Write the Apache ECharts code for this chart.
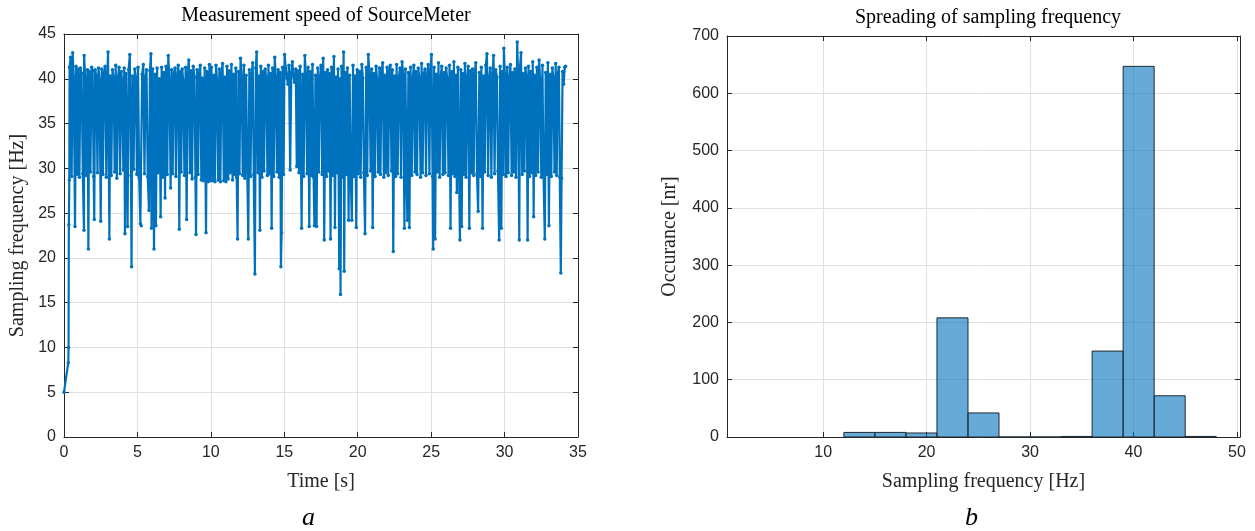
<!DOCTYPE html>
<html>
<head>
<meta charset="utf-8">
<title>SourceMeter sampling</title>
<script src="https://cdn.jsdelivr.net/npm/echarts@6/dist/echarts.min.js"></script>
<style>
  html, body { margin: 0; padding: 0; background: #fff; }
  #main { width: 1255px; height: 531px; }
</style>
</head>
<body>
<div id="main"></div>
<script>
// (a) measured sampling frequency over time: [time s, frequency Hz]
const speedSamples = [
  [0,5.0],[0.29,8.3],[0.31,10.0],[0.33,23.7],[0.36,28.7],[0.38,41.3],[0.45,42.4],[0.52,29.1],[0.59,42.9],[0.66,40.2],[0.75,23.5],[0.82,41.4],[0.9,29.3],[0.96,41.1],
  [1.05,29.0],[1.12,41.2],[1.2,40.6],[1.28,29.4],[1.36,23.1],[1.37,42.6],[1.45,40.0],[1.52,29.2],[1.6,41.0],[1.66,21.0],[1.72,40.8],[1.8,29.6],[1.88,41.3],[1.95,40.9],
  [2.02,29.1],[2.06,24.3],[2.12,41.0],[2.2,40.4],[2.28,29.5],[2.35,41.2],[2.42,39.8],[2.5,24.1],[2.57,41.1],[2.65,29.3],[2.72,40.7],[2.8,41.4],[2.88,29.0],[2.95,40.5],
  [3.0,43.0],[3.09,22.1],[3.15,40.3],[3.22,29.2],[3.3,41.0],[3.38,40.1],[3.45,29.6],[3.52,41.5],[3.6,28.9],[3.68,40.2],[3.75,41.3],[3.82,29.4],[3.9,40.8],[3.96,39.6],
  [4.04,29.8],[4.1,41.2],[4.15,22.7],[4.22,40.6],[4.33,23.5],[4.4,41.0],[4.48,42.7],[4.56,29.2],[4.6,19.0],[4.66,40.3],[4.74,29.9],[4.82,41.1],[4.9,40.0],[4.96,29.3],
  [5.04,41.3],[5.12,29.0],[5.2,23.8],[5.26,23.6],[5.32,40.5],[5.4,41.6],[5.48,29.4],[5.55,40.2],[5.62,41.0],[5.7,29.1],[5.79,25.3],[5.85,40.9],[5.92,42.8],[5.96,23.3],
  [6.04,41.1],[6.13,21.0],[6.2,40.5],[6.26,23.6],[6.34,41.2],[6.42,29.5],[6.5,40.0],[6.58,24.6],[6.65,41.3],[6.72,29.0],[6.8,40.7],[6.88,26.7],[6.95,41.4],
  [7.03,29.3],[7.1,42.6],[7.18,39.9],[7.26,27.8],[7.33,41.0],[7.4,29.4],[7.48,40.6],[7.56,41.2],[7.62,29.1],[7.7,40.3],[7.78,41.5],[7.85,23.2],[7.92,40.8],[7.98,29.6],
  [8.05,41.1],[8.12,39.8],[8.2,29.2],[8.28,41.3],[8.35,24.3],[8.42,40.5],[8.5,42.1],[8.58,29.5],[8.65,40.9],[8.72,28.8],[8.8,41.4],[8.88,40.2],[8.95,29.0],
  [8.99,22.6],[9.06,41.0],[9.13,29.3],[9.2,40.6],[9.28,41.5],[9.35,28.7],[9.42,40.1],[9.5,28.6],[9.58,41.2],[9.67,22.8],[9.74,40.8],[9.82,28.5],[9.9,41.6],[9.96,28.6],
  [10.04,41.3],[10.12,28.6],[10.2,40.4],[10.28,28.5],[10.35,41.5],[10.42,40.0],[10.5,28.7],[10.58,41.1],[10.65,28.5],[10.72,40.6],[10.8,41.7],[10.88,28.6],[10.95,40.2],
  [11.03,28.5],[11.1,41.4],[11.18,28.8],[11.25,40.9],[11.33,29.5],[11.4,41.6],[11.48,28.7],[11.55,40.5],[11.62,29.3],[11.7,41.2],[11.76,29.0],[11.82,22.1],[11.88,40.8],[11.95,29.4],
  [12.02,42.3],[12.1,40.1],[12.17,29.2],[12.25,41.5],[12.32,28.9],[12.4,40.4],[12.48,29.6],[12.55,22.1],[12.62,41.0],[12.7,29.1],[12.78,40.6],[12.85,41.8],[12.92,29.3],[13.0,18.2],
  [13.06,41.2],[13.12,43.0],[13.2,29.5],[13.28,40.3],[13.34,23.1],[13.4,41.4],[13.48,29.0],[13.55,40.8],[13.62,29.7],[13.7,41.1],[13.78,40.0],[13.85,29.2],[13.92,41.5],
  [14.0,29.4],[14.07,40.6],[14.14,23.3],[14.2,41.2],[14.28,29.1],[14.35,42.4],[14.42,40.3],[14.5,29.6],[14.58,41.0],[14.65,29.0],[14.72,40.7],[14.77,19.0],[14.82,22.8],[14.88,41.3],[14.95,29.3],
  [15.02,42.7],[15.1,41.2],[15.18,40.1],[15.25,39.4],[15.32,41.5],[15.4,29.8],[15.48,40.7],[15.55,41.9],[15.62,40.3],[15.7,39.6],[15.78,41.1],[15.85,30.2],[15.92,40.9],
  [16.0,29.5],[16.08,41.4],[16.18,23.3],[16.25,40.5],[16.32,29.1],[16.4,42.6],[16.48,40.2],[16.55,29.4],[16.62,41.3],[16.7,23.5],[16.78,40.8],[16.85,29.2],[16.92,41.6],
  [17.0,29.0],[17.05,23.6],[17.12,40.4],[17.2,23.5],[17.28,41.2],[17.35,29.6],[17.42,40.0],[17.5,41.5],[17.58,29.3],[17.65,42.3],[17.72,22.0],[17.8,40.7],[17.88,29.1],[17.95,41.0],
  [18.02,29.7],[18.08,40.6],[18.15,22.1],[18.22,41.3],[18.3,29.2],[18.38,42.5],[18.45,23.4],[18.52,40.2],[18.6,29.5],[18.66,41.1],[18.74,18.8],[18.8,40.0],[18.83,15.9],[18.9,41.4],[18.96,29.0],
  [19.04,43.0],[19.08,18.5],[19.15,40.7],[19.22,29.3],[19.3,41.2],[19.38,24.2],[19.45,40.4],[19.52,29.6],[19.6,24.2],[19.68,41.5],[19.75,29.1],[19.82,40.3],[19.9,23.4],[19.96,41.0],
  [20.04,29.4],[20.12,40.8],[20.2,29.0],[20.28,41.6],[20.35,40.1],[20.42,29.5],[20.5,22.7],[20.58,41.3],[20.65,29.2],[20.72,42.7],[20.8,40.5],[20.88,29.7],[20.95,41.1],
  [21.02,23.4],[21.1,40.6],[21.18,29.1],[21.25,41.4],[21.32,40.0],[21.4,29.6],[21.48,41.2],[21.55,29.3],[21.62,40.7],[21.7,41.8],[21.78,29.0],[21.85,40.4],[21.92,29.5],
  [22.0,41.3],[22.08,29.2],[22.15,40.9],[22.22,41.5],[22.3,29.7],[22.36,41.0],[22.42,20.7],[22.5,40.3],[22.58,29.1],[22.65,41.6],[22.72,29.4],[22.8,40.2],[22.88,41.2],[22.95,29.0],
  [23.02,41.9],[23.1,40.5],[23.18,23.3],[23.25,41.1],[23.32,29.5],[23.38,24.2],[23.45,40.7],[23.52,23.4],[23.6,41.3],[23.68,29.2],[23.75,40.0],[23.82,41.5],[23.9,29.6],[23.96,40.8],
  [24.04,29.3],[24.12,41.2],[24.2,40.1],[24.28,29.0],[24.35,41.7],[24.42,29.5],[24.5,40.6],[24.58,41.1],[24.65,29.2],[24.72,40.3],[24.8,41.6],[24.88,29.4],[24.95,40.9],
  [25.02,42.7],[25.1,29.1],[25.14,21.0],[25.2,41.3],[25.27,22.1],[25.35,40.5],[25.42,29.6],[25.5,41.8],[25.58,29.0],[25.65,40.2],[25.72,41.4],[25.8,29.3],[25.88,40.7],[25.95,29.5],
  [26.02,41.2],[26.1,40.0],[26.18,29.2],[26.25,41.5],[26.32,23.3],[26.4,40.8],[26.48,29.4],[26.55,41.9],[26.62,29.1],[26.7,40.4],[26.75,27.3],[26.82,41.3],[26.9,29.6],[26.96,22.0],
  [27.02,41.0],[27.08,23.5],[27.15,40.6],[27.22,29.3],[27.3,41.7],[27.38,29.0],[27.45,40.2],[27.52,41.4],[27.6,23.3],[27.68,40.9],[27.75,29.5],[27.82,41.1],[27.9,29.2],[27.96,40.5],
  [28.04,41.8],[28.12,29.4],[28.2,25.2],[28.28,40.7],[28.35,29.1],[28.42,41.3],[28.5,23.3],[28.58,40.3],[28.65,29.6],[28.72,41.5],[28.8,42.8],[28.88,29.2],[28.95,40.1],
  [29.02,41.2],[29.1,29.0],[29.18,40.6],[29.25,42.6],[29.32,29.4],[29.4,41.0],[29.48,40.2],[29.55,29.7],[29.63,22.0],[29.7,41.4],[29.78,23.3],[29.85,40.8],[29.92,29.3],[29.95,43.4],
  [30.02,40.5],[30.1,29.1],[30.18,41.3],[30.25,29.5],[30.32,40.0],[30.4,41.6],[30.48,29.2],[30.55,40.7],[30.62,29.6],[30.7,41.1],[30.78,29.0],[30.86,44.1],[30.92,40.3],[31.0,22.0],
  [31.06,41.5],[31.12,42.9],[31.2,29.3],[31.28,40.6],[31.35,29.7],[31.42,41.2],[31.5,40.1],[31.57,22.0],[31.63,41.4],[31.7,29.1],[31.78,40.8],[31.85,29.5],[31.92,41.9],[31.98,24.6],
  [32.04,40.4],[32.12,29.2],[32.2,41.3],[32.28,29.6],[32.35,42.1],[32.42,40.0],[32.5,29.0],[32.58,41.5],[32.65,29.4],[32.74,22.1],[32.8,40.7],[32.88,29.3],[32.95,41.8],
  [33.02,23.6],[33.1,40.5],[33.18,29.1],[33.25,41.2],[33.32,40.2],[33.4,29.6],[33.48,41.7],[33.55,29.2],[33.62,40.6],[33.7,41.3],[33.76,29.0],[33.83,18.3],[33.88,28.9],[33.95,40.8],[34.02,39.4],[34.1,41.3],[34.15,41.4]
];

// (b) histogram of the sampling frequency
const binEdges = [12, 15, 18, 21, 24, 27, 30, 33, 36, 39, 42, 45, 48];
const binCounts = [8, 8, 7, 208, 42, 0, 0, 1, 150, 647, 72, 1];
const histTicks = [10, 20, 30, 40, 50];

const axisColor = '#262626';
const gridColor = '#e0e0e0';
const serif = '"Liberation Serif", "DejaVu Serif", serif';
const sans = '"Liberation Sans", Arial, sans-serif';

const histBars = binCounts.map((c, i) => [binEdges[i], binEdges[i + 1], c]);

const myChart = echarts.init(document.getElementById('main'));

// shared look of a boxed matlab-style axis
function boxAxis(extra) {
  return Object.assign({
    axisLine: { show: true, onZero: false, lineStyle: { color: axisColor, width: 1 } },
    axisTick: { show: true, inside: true, length: 5, lineStyle: { color: axisColor } },
    axisLabel: { color: axisColor, fontFamily: sans, fontSize: 16 },
    splitLine: { show: true, lineStyle: { color: gridColor, width: 1 } },
    nameTextStyle: { color: axisColor, fontFamily: serif, fontSize: 20 }
  }, extra);
}

myChart.setOption({
  animation: false,
  title: [
    { text: 'Measurement speed of SourceMeter', left: 321, top: 1, textAlign: 'center',
      textStyle: { fontFamily: serif, fontWeight: 'normal', fontSize: 20, color: '#000' } },
    { text: 'Spreading of sampling frequency', left: 983, top: 3, textAlign: 'center',
      textStyle: { fontFamily: serif, fontWeight: 'normal', fontSize: 20, color: '#000' } }
  ],
  grid: [
    { left: 64, right: 677, top: 34, bottom: 94 },
    { left: 727, right: 15, top: 36, bottom: 94 }
  ],
  xAxis: [
    boxAxis({ type: 'value', gridIndex: 0, min: 0, max: 35, interval: 5,
      name: 'Time [s]', nameLocation: 'middle', nameGap: 35 }),
    boxAxis({ type: 'value', gridIndex: 1, min: 0.7, max: 50.3,
      axisTick: { show: true, inside: true, length: 5, lineStyle: { color: axisColor }, customValues: histTicks },
      axisLabel: { color: axisColor, fontFamily: sans, fontSize: 16, customValues: histTicks },
      name: 'Sampling frequency [Hz]', nameLocation: 'middle', nameGap: 35 }),
    boxAxis({ type: 'value', gridIndex: 0, position: 'top', min: 0, max: 35, interval: 5,
      axisLabel: { show: false }, splitLine: { show: false } }),
    boxAxis({ type: 'value', gridIndex: 1, position: 'top', min: 0.7, max: 50.3,
      axisTick: { show: true, inside: true, length: 5, lineStyle: { color: axisColor }, customValues: histTicks },
      axisLabel: { show: false, customValues: histTicks }, splitLine: { show: false } })
  ],
  yAxis: [
    boxAxis({ type: 'value', gridIndex: 0, min: 0, max: 45, interval: 5,
      name: 'Sampling frequency [Hz]', nameLocation: 'middle', nameGap: 36 }),
    boxAxis({ type: 'value', gridIndex: 1, min: 0, max: 700, interval: 100,
      name: 'Occurance [nr]', nameLocation: 'middle', nameGap: 47 }),
    boxAxis({ type: 'value', gridIndex: 0, position: 'right', min: 0, max: 45, interval: 5,
      axisLabel: { show: false }, splitLine: { show: false } }),
    boxAxis({ type: 'value', gridIndex: 1, position: 'right', min: 0, max: 700, interval: 100,
      axisLabel: { show: false }, splitLine: { show: false } })
  ],
  series: [
    {
      type: 'line',
      xAxisIndex: 0,
      yAxisIndex: 0,
      data: speedSamples,
      symbol: 'circle',
      symbolSize: 3.5,
      showSymbol: true,
      itemStyle: { color: '#0072BD' },
      lineStyle: { color: '#0072BD', width: 2.2 }
    },
    {
      type: 'custom',
      xAxisIndex: 1,
      yAxisIndex: 1,
      data: histBars,
      encode: { x: [0, 1], y: 2 },
      renderItem: function (params, api) {
        const topLeft = api.coord([api.value(0), api.value(2)]);
        const bottomRight = api.coord([api.value(1), 0]);
        return {
          type: 'rect',
          shape: {
            x: topLeft[0],
            y: topLeft[1],
            width: bottomRight[0] - topLeft[0],
            height: bottomRight[1] - topLeft[1]
          },
          style: { fill: 'rgba(0,114,189,0.6)', stroke: '#1f2a33', lineWidth: 1 }
        };
      }
    }
  ],
  graphic: [
    { type: 'text', left: 302, top: 505,
      style: { text: 'a', font: 'italic 26px ' + serif, fill: '#000' } },
    { type: 'text', left: 965, top: 505,
      style: { text: 'b', font: 'italic 26px ' + serif, fill: '#000' } }
  ]
});
</script>
</body>
</html>
